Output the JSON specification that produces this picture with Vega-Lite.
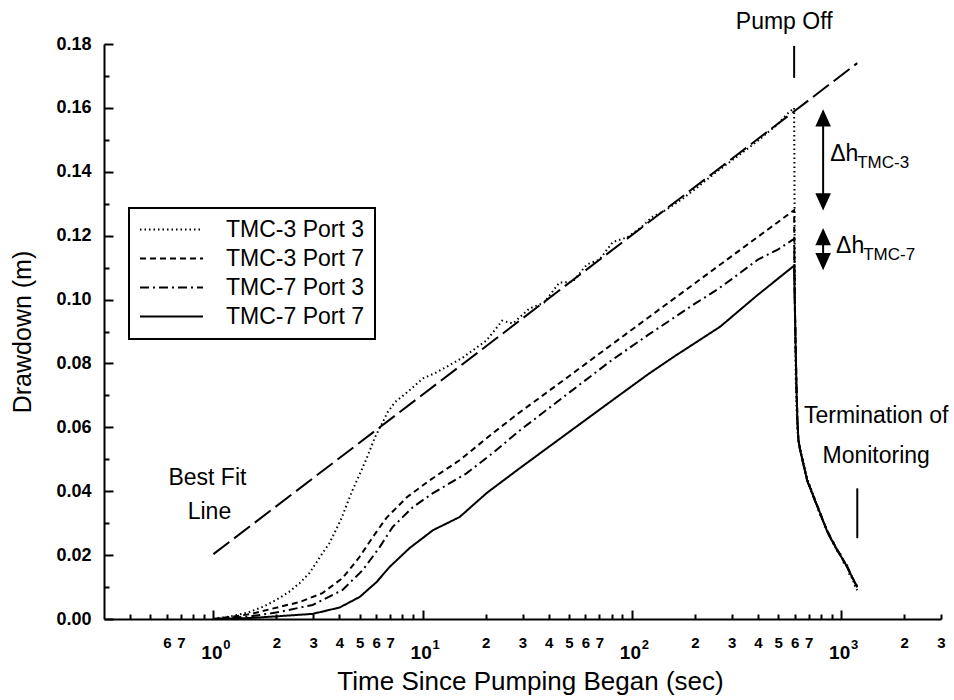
{
  "$schema": "https://vega.github.io/schema/vega-lite/v6.json",
  "width": 837,
  "height": 575,
  "autosize": {"type": "none"},
  "padding": {"left": 104, "top": 44, "right": 13, "bottom": 81},
  "background": "white",
  "config": {
    "font": "Liberation Sans",
    "view": {"stroke": null},
    "axis": {
      "grid": false,
      "domainColor": "black",
      "domainWidth": 2,
      "tickColor": "black",
      "tickWidth": 2,
      "labelColor": "black",
      "titleColor": "black",
      "labelFont": "Liberation Sans",
      "titleFont": "Liberation Sans",
      "titleFontWeight": "normal"
    },
    "legend": {"strokeWidth": 2}
  },
  "resolve": {"axis": {"x": "independent", "y": "independent"}},
  "datasets": {
    "curves": [
      {"series": "TMC-3 Port 3", "t": 1, "v": 0},
      {"series": "TMC-3 Port 3", "t": 1.25, "v": 0.001},
      {"series": "TMC-3 Port 3", "t": 1.49, "v": 0.0022},
      {"series": "TMC-3 Port 3", "t": 1.75, "v": 0.004},
      {"series": "TMC-3 Port 3", "t": 2.0, "v": 0.006},
      {"series": "TMC-3 Port 3", "t": 2.3, "v": 0.0085},
      {"series": "TMC-3 Port 3", "t": 2.58, "v": 0.0112},
      {"series": "TMC-3 Port 3", "t": 2.88, "v": 0.0144},
      {"series": "TMC-3 Port 3", "t": 3.32, "v": 0.0206},
      {"series": "TMC-3 Port 3", "t": 3.59, "v": 0.0238},
      {"series": "TMC-3 Port 3", "t": 4.1, "v": 0.0316},
      {"series": "TMC-3 Port 3", "t": 4.35, "v": 0.036},
      {"series": "TMC-3 Port 3", "t": 4.6, "v": 0.04},
      {"series": "TMC-3 Port 3", "t": 5.1, "v": 0.0466},
      {"series": "TMC-3 Port 3", "t": 5.4, "v": 0.0503},
      {"series": "TMC-3 Port 3", "t": 5.9, "v": 0.0567},
      {"series": "TMC-3 Port 3", "t": 6.8, "v": 0.0647},
      {"series": "TMC-3 Port 3", "t": 7.35, "v": 0.0678},
      {"series": "TMC-3 Port 3", "t": 8.4, "v": 0.0709},
      {"series": "TMC-3 Port 3", "t": 8.97, "v": 0.0725},
      {"series": "TMC-3 Port 3", "t": 10.0, "v": 0.0753},
      {"series": "TMC-3 Port 3", "t": 11.4, "v": 0.0769},
      {"series": "TMC-3 Port 3", "t": 13.4, "v": 0.0794},
      {"series": "TMC-3 Port 3", "t": 15.6, "v": 0.0819},
      {"series": "TMC-3 Port 3", "t": 18.7, "v": 0.0856},
      {"series": "TMC-3 Port 3", "t": 20.2, "v": 0.0872},
      {"series": "TMC-3 Port 3", "t": 24, "v": 0.0934},
      {"series": "TMC-3 Port 3", "t": 27, "v": 0.0925},
      {"series": "TMC-3 Port 3", "t": 32.4, "v": 0.0972},
      {"series": "TMC-3 Port 3", "t": 38, "v": 0.099},
      {"series": "TMC-3 Port 3", "t": 45, "v": 0.1053},
      {"series": "TMC-3 Port 3", "t": 52, "v": 0.1055},
      {"series": "TMC-3 Port 3", "t": 61, "v": 0.111},
      {"series": "TMC-3 Port 3", "t": 70, "v": 0.1125},
      {"series": "TMC-3 Port 3", "t": 81, "v": 0.118},
      {"series": "TMC-3 Port 3", "t": 95, "v": 0.1195},
      {"series": "TMC-3 Port 3", "t": 110, "v": 0.1225},
      {"series": "TMC-3 Port 3", "t": 126, "v": 0.126},
      {"series": "TMC-3 Port 3", "t": 145, "v": 0.128},
      {"series": "TMC-3 Port 3", "t": 170, "v": 0.131},
      {"series": "TMC-3 Port 3", "t": 200, "v": 0.1345},
      {"series": "TMC-3 Port 3", "t": 254, "v": 0.14},
      {"series": "TMC-3 Port 3", "t": 300, "v": 0.1435},
      {"series": "TMC-3 Port 3", "t": 350, "v": 0.1468},
      {"series": "TMC-3 Port 3", "t": 400, "v": 0.1497},
      {"series": "TMC-3 Port 3", "t": 450, "v": 0.1525},
      {"series": "TMC-3 Port 3", "t": 500, "v": 0.155},
      {"series": "TMC-3 Port 3", "t": 550, "v": 0.158},
      {"series": "TMC-3 Port 3", "t": 596, "v": 0.16},
      {"series": "TMC-3 Port 3", "t": 598, "v": 0.14},
      {"series": "TMC-3 Port 3", "t": 600, "v": 0.11},
      {"series": "TMC-3 Port 3", "t": 603, "v": 0.09},
      {"series": "TMC-3 Port 3", "t": 607, "v": 0.075},
      {"series": "TMC-3 Port 3", "t": 612, "v": 0.066},
      {"series": "TMC-3 Port 3", "t": 620, "v": 0.058},
      {"series": "TMC-3 Port 3", "t": 628, "v": 0.055},
      {"series": "TMC-3 Port 3", "t": 637, "v": 0.0535},
      {"series": "TMC-3 Port 3", "t": 660, "v": 0.049},
      {"series": "TMC-3 Port 3", "t": 688, "v": 0.044},
      {"series": "TMC-3 Port 3", "t": 715, "v": 0.041},
      {"series": "TMC-3 Port 3", "t": 740, "v": 0.0385},
      {"series": "TMC-3 Port 3", "t": 765, "v": 0.0355},
      {"series": "TMC-3 Port 3", "t": 794, "v": 0.0325},
      {"series": "TMC-3 Port 3", "t": 820, "v": 0.0305},
      {"series": "TMC-3 Port 3", "t": 850, "v": 0.0285},
      {"series": "TMC-3 Port 3", "t": 880, "v": 0.0255},
      {"series": "TMC-3 Port 3", "t": 916, "v": 0.0243},
      {"series": "TMC-3 Port 3", "t": 950, "v": 0.0215},
      {"series": "TMC-3 Port 3", "t": 990, "v": 0.0205},
      {"series": "TMC-3 Port 3", "t": 1030, "v": 0.0175},
      {"series": "TMC-3 Port 3", "t": 1069, "v": 0.0168},
      {"series": "TMC-3 Port 3", "t": 1100, "v": 0.0135},
      {"series": "TMC-3 Port 3", "t": 1130, "v": 0.0128},
      {"series": "TMC-3 Port 3", "t": 1160, "v": 0.0105},
      {"series": "TMC-3 Port 3", "t": 1194, "v": 0.009},

      {"series": "TMC-3 Port 7", "t": 1, "v": 0},
      {"series": "TMC-3 Port 7", "t": 1.5, "v": 0.0015},
      {"series": "TMC-3 Port 7", "t": 2.07, "v": 0.0038},
      {"series": "TMC-3 Port 7", "t": 2.58, "v": 0.0053},
      {"series": "TMC-3 Port 7", "t": 3.32, "v": 0.0081},
      {"series": "TMC-3 Port 7", "t": 4.14, "v": 0.0128},
      {"series": "TMC-3 Port 7", "t": 4.99, "v": 0.0194},
      {"series": "TMC-3 Port 7", "t": 5.77, "v": 0.0256},
      {"series": "TMC-3 Port 7", "t": 6.7, "v": 0.0316},
      {"series": "TMC-3 Port 7", "t": 8.4, "v": 0.0381},
      {"series": "TMC-3 Port 7", "t": 10.8, "v": 0.0434},
      {"series": "TMC-3 Port 7", "t": 15.0, "v": 0.0497},
      {"series": "TMC-3 Port 7", "t": 21.6, "v": 0.0581},
      {"series": "TMC-3 Port 7", "t": 29.1, "v": 0.0647},
      {"series": "TMC-3 Port 7", "t": 50, "v": 0.076},
      {"series": "TMC-3 Port 7", "t": 80, "v": 0.0859},
      {"series": "TMC-3 Port 7", "t": 120, "v": 0.0944},
      {"series": "TMC-3 Port 7", "t": 200, "v": 0.1051},
      {"series": "TMC-3 Port 7", "t": 300, "v": 0.1136},
      {"series": "TMC-3 Port 7", "t": 450, "v": 0.1221},
      {"series": "TMC-3 Port 7", "t": 596, "v": 0.128},
      {"series": "TMC-3 Port 7", "t": 600, "v": 0.1},
      {"series": "TMC-3 Port 7", "t": 606, "v": 0.085},
      {"series": "TMC-3 Port 7", "t": 612, "v": 0.072},
      {"series": "TMC-3 Port 7", "t": 618, "v": 0.062},
      {"series": "TMC-3 Port 7", "t": 625, "v": 0.056},
      {"series": "TMC-3 Port 7", "t": 637, "v": 0.053},
      {"series": "TMC-3 Port 7", "t": 688, "v": 0.0435},
      {"series": "TMC-3 Port 7", "t": 740, "v": 0.0382},
      {"series": "TMC-3 Port 7", "t": 794, "v": 0.0332},
      {"series": "TMC-3 Port 7", "t": 850, "v": 0.0282},
      {"series": "TMC-3 Port 7", "t": 916, "v": 0.024},
      {"series": "TMC-3 Port 7", "t": 990, "v": 0.0201},
      {"series": "TMC-3 Port 7", "t": 1069, "v": 0.0164},
      {"series": "TMC-3 Port 7", "t": 1130, "v": 0.0131},
      {"series": "TMC-3 Port 7", "t": 1194, "v": 0.0102},

      {"series": "TMC-7 Port 3", "t": 1, "v": 0},
      {"series": "TMC-7 Port 3", "t": 1.5, "v": 0.0008},
      {"series": "TMC-7 Port 3", "t": 2.07, "v": 0.0022},
      {"series": "TMC-7 Port 3", "t": 2.98, "v": 0.0044},
      {"series": "TMC-7 Port 3", "t": 4.14, "v": 0.0091},
      {"series": "TMC-7 Port 3", "t": 5.17, "v": 0.0153},
      {"series": "TMC-7 Port 3", "t": 6.23, "v": 0.0225},
      {"series": "TMC-7 Port 3", "t": 7.19, "v": 0.0288},
      {"series": "TMC-7 Port 3", "t": 8.97, "v": 0.035},
      {"series": "TMC-7 Port 3", "t": 11.2, "v": 0.0394},
      {"series": "TMC-7 Port 3", "t": 16.2, "v": 0.0456},
      {"series": "TMC-7 Port 3", "t": 21.6, "v": 0.0519},
      {"series": "TMC-7 Port 3", "t": 29.1, "v": 0.059},
      {"series": "TMC-7 Port 3", "t": 50, "v": 0.0708},
      {"series": "TMC-7 Port 3", "t": 80, "v": 0.081},
      {"series": "TMC-7 Port 3", "t": 120, "v": 0.089},
      {"series": "TMC-7 Port 3", "t": 200, "v": 0.0987},
      {"series": "TMC-7 Port 3", "t": 250, "v": 0.1027},
      {"series": "TMC-7 Port 3", "t": 300, "v": 0.1064},
      {"series": "TMC-7 Port 3", "t": 400, "v": 0.1125},
      {"series": "TMC-7 Port 3", "t": 500, "v": 0.1157},
      {"series": "TMC-7 Port 3", "t": 596, "v": 0.119},
      {"series": "TMC-7 Port 3", "t": 600, "v": 0.1},
      {"series": "TMC-7 Port 3", "t": 606, "v": 0.085},
      {"series": "TMC-7 Port 3", "t": 612, "v": 0.072},
      {"series": "TMC-7 Port 3", "t": 618, "v": 0.062},
      {"series": "TMC-7 Port 3", "t": 625, "v": 0.056},
      {"series": "TMC-7 Port 3", "t": 637, "v": 0.0527},
      {"series": "TMC-7 Port 3", "t": 688, "v": 0.0433},
      {"series": "TMC-7 Port 3", "t": 740, "v": 0.0379},
      {"series": "TMC-7 Port 3", "t": 794, "v": 0.033},
      {"series": "TMC-7 Port 3", "t": 850, "v": 0.0279},
      {"series": "TMC-7 Port 3", "t": 916, "v": 0.0237},
      {"series": "TMC-7 Port 3", "t": 990, "v": 0.0199},
      {"series": "TMC-7 Port 3", "t": 1069, "v": 0.0162},
      {"series": "TMC-7 Port 3", "t": 1130, "v": 0.0129},
      {"series": "TMC-7 Port 3", "t": 1194, "v": 0.0099},

      {"series": "TMC-7 Port 7", "t": 1, "v": 0},
      {"series": "TMC-7 Port 7", "t": 1.5, "v": 0.0003},
      {"series": "TMC-7 Port 7", "t": 2.07, "v": 0.0009},
      {"series": "TMC-7 Port 7", "t": 2.98, "v": 0.0016},
      {"series": "TMC-7 Port 7", "t": 4.01, "v": 0.0036},
      {"series": "TMC-7 Port 7", "t": 5.0, "v": 0.0069},
      {"series": "TMC-7 Port 7", "t": 6.03, "v": 0.0116},
      {"series": "TMC-7 Port 7", "t": 6.95, "v": 0.0163},
      {"series": "TMC-7 Port 7", "t": 8.66, "v": 0.0222},
      {"series": "TMC-7 Port 7", "t": 11.2, "v": 0.0278},
      {"series": "TMC-7 Port 7", "t": 15.0, "v": 0.0319},
      {"series": "TMC-7 Port 7", "t": 20.2, "v": 0.0394},
      {"series": "TMC-7 Port 7", "t": 29.1, "v": 0.0472},
      {"series": "TMC-7 Port 7", "t": 50, "v": 0.0585},
      {"series": "TMC-7 Port 7", "t": 80, "v": 0.0683},
      {"series": "TMC-7 Port 7", "t": 120, "v": 0.0767},
      {"series": "TMC-7 Port 7", "t": 157, "v": 0.0819},
      {"series": "TMC-7 Port 7", "t": 264, "v": 0.0915},
      {"series": "TMC-7 Port 7", "t": 400, "v": 0.1015},
      {"series": "TMC-7 Port 7", "t": 596, "v": 0.1106},
      {"series": "TMC-7 Port 7", "t": 600, "v": 0.1},
      {"series": "TMC-7 Port 7", "t": 606, "v": 0.085},
      {"series": "TMC-7 Port 7", "t": 612, "v": 0.072},
      {"series": "TMC-7 Port 7", "t": 618, "v": 0.062},
      {"series": "TMC-7 Port 7", "t": 625, "v": 0.056},
      {"series": "TMC-7 Port 7", "t": 637, "v": 0.0528},
      {"series": "TMC-7 Port 7", "t": 688, "v": 0.0434},
      {"series": "TMC-7 Port 7", "t": 740, "v": 0.038},
      {"series": "TMC-7 Port 7", "t": 794, "v": 0.0331},
      {"series": "TMC-7 Port 7", "t": 850, "v": 0.028},
      {"series": "TMC-7 Port 7", "t": 916, "v": 0.0238},
      {"series": "TMC-7 Port 7", "t": 990, "v": 0.02},
      {"series": "TMC-7 Port 7", "t": 1069, "v": 0.0163},
      {"series": "TMC-7 Port 7", "t": 1130, "v": 0.013},
      {"series": "TMC-7 Port 7", "t": 1194, "v": 0.01}
    ],
    "bestfit": [
      {"t": 1, "v": 0.0203},
      {"t": 1194, "v": 0.174}
    ],
    "rules": [
      {"t": 596, "v": 0.1694, "v2": 0.1794},
      {"t": 1194, "v": 0.0253, "v2": 0.0409},
      {"t": 820, "v": 0.1306, "v2": 0.1569},
      {"t": 820, "v": 0.1119, "v2": 0.1197}
    ],
    "headsUp": [
      {"t": 820, "v": 0.1569},
      {"t": 820, "v": 0.1197}
    ],
    "headsDown": [
      {"t": 820, "v": 0.1306},
      {"t": 820, "v": 0.1119}
    ],
    "notes": [
      {"t": 534, "v": 0.1847, "label": "Pump Off"},
      {"t": 0.936, "v": 0.0419, "label": "Best Fit"},
      {"t": 0.957, "v": 0.03125, "label": "Line"},
      {"t": 1470, "v": 0.06125, "label": "Termination of"},
      {"t": 1470, "v": 0.04875, "label": "Monitoring"}
    ],
    "deltas": [
      {"t": 886, "v": 0.1434, "label": "Δh"},
      {"t": 946, "v": 0.1147, "label": "Δh"}
    ],
    "subs": [
      {"t": 1193, "v": 0.1413, "label": "TMC-3"},
      {"t": 1274, "v": 0.1125, "label": "TMC-7"}
    ]
  },
  "layer": [
    {
      "data": {"name": "curves"},
      "mark": {"type": "line", "color": "black", "strokeWidth": 2},
      "encoding": {
        "x": {
          "field": "t",
          "type": "quantitative",
          "scale": {"type": "log", "domain": [0.3, 3000], "nice": false},
          "axis": {
            "orient": "bottom",
            "title": null,
            "domain": false,
            "offset": -5,
            "values": [0.4, 0.5, 0.6, 0.7, 0.8, 0.9, 2, 3, 4, 5, 6, 7, 8, 9, 20, 30, 40, 50, 60, 70, 80, 90, 200, 300, 400, 500, 600, 700, 800, 900, 2000, 3000],
            "labelExpr": "datum.value < 0.55 ? '' : (round(datum.value / pow(10, floor(log(datum.value) / LN10 + 1e-9))) <= 7 ? '' + round(datum.value / pow(10, floor(log(datum.value) / LN10 + 1e-9))) : '')",
            "labelOverlap": false,
            "labelFlush": false,
            "labelFontWeight": "bold",
            "labelFontSize": 15,
            "labelPadding": 16,
            "tickSize": 5
          }
        },
        "y": {
          "field": "v",
          "type": "quantitative",
          "scale": {"domain": [0, 0.18], "nice": false, "zero": false},
          "axis": {
            "orient": "left",
            "title": null,
            "domain": false,
            "offset": -5,
            "values": [0.01, 0.03, 0.05, 0.07, 0.09, 0.11, 0.13, 0.15, 0.17],
            "labels": false,
            "tickSize": 5
          }
        },
        "strokeDash": {
          "field": "series",
          "type": "nominal",
          "scale": {
            "domain": ["TMC-3 Port 3", "TMC-3 Port 7", "TMC-7 Port 3", "TMC-7 Port 7"],
            "range": [[1.5, 3], [6, 4], [9, 4, 2, 4], [1, 0]]
          },
          "legend": {
            "title": null,
            "orient": "none",
            "legendX": 25,
            "legendY": 164,
            "labelFontSize": 23,
            "labelFont": "Liberation Sans",
            "labelColor": "black",
            "labelLimit": 400,
            "symbolType": "stroke",
            "symbolSize": 3969,
            "symbolStrokeWidth": 2,
            "symbolStrokeColor": "black",
            "clipHeight": 23,
            "labelOffset": 22,
            "rowPadding": 5,
            "padding": 10,
            "strokeColor": "black"
          }
        }
      }
    },
    {
      "data": {"name": "bestfit"},
      "mark": {"type": "line", "color": "black", "strokeWidth": 2, "strokeDash": [20, 6]},
      "encoding": {
        "x": {
          "field": "t",
          "type": "quantitative",
          "scale": {"type": "log", "domain": [0.3, 3000], "nice": false},
          "axis": {
            "orient": "bottom",
            "title": null,
            "domain": false,
            "offset": -9,
            "values": [1, 10, 100, 1000],
            "labelExpr": "'10'",
            "labelOverlap": false,
            "labelFlush": false,
            "labelFontWeight": "bold",
            "labelFontSize": 19,
            "labelPadding": 24,
            "labelOffset": -2,
            "tickSize": 9
          }
        },
        "y": {
          "field": "v",
          "type": "quantitative",
          "scale": {"domain": [0, 0.18], "nice": false, "zero": false},
          "axis": {
            "orient": "left",
            "title": null,
            "domain": false,
            "offset": -9,
            "values": [0, 0.02, 0.04, 0.06, 0.08, 0.1, 0.12, 0.14, 0.16, 0.18],
            "labelExpr": "format(datum.value, '.2f')",
            "labelOverlap": false,
            "labelFlush": false,
            "labelFontWeight": "bold",
            "labelFontSize": 18,
            "labelPadding": 13,
            "tickSize": 9
          }
        }
      }
    },
    {
      "data": {"name": "rules"},
      "mark": {"type": "rule", "color": "black", "strokeWidth": 2},
      "encoding": {
        "x": {
          "field": "t",
          "type": "quantitative",
          "axis": {
            "orient": "bottom",
            "title": "Time Since Pumping Began (sec)",
            "titleFontSize": 26,
            "titleX": 426,
            "titleY": 70,
            "titleBaseline": "alphabetic",
            "ticks": false,
            "labels": false,
            "domain": true
          }
        },
        "y": {
          "field": "v",
          "type": "quantitative",
          "axis": {
            "orient": "left",
            "title": "Drawdown (m)",
            "titleFontSize": 25,
            "titleX": -82,
            "titleY": 287.5,
            "titleAngle": -90,
            "titleAlign": "center",
            "titleBaseline": "middle",
            "ticks": false,
            "labels": false,
            "domain": true
          }
        },
        "y2": {"field": "v2"}
      }
    },
    {
      "data": {"name": "headsUp"},
      "mark": {"type": "point", "shape": "M0,-1L-0.9,1L0.9,1Z", "filled": true, "color": "black", "opacity": 1, "size": 300, "strokeWidth": 0},
      "encoding": {
        "x": {
          "field": "t",
          "type": "quantitative",
          "axis": {
            "orient": "bottom",
            "title": null,
            "domain": false,
            "ticks": false,
            "values": [1, 10, 100, 1000],
            "labelExpr": "datum.value == 1 ? '0' : datum.value == 10 ? '1' : datum.value == 100 ? '2' : '3'",
            "labelOverlap": false,
            "labelFlush": false,
            "labelFontWeight": "bold",
            "labelFontSize": 13,
            "labelPadding": 19,
            "labelOffset": 13
          }
        },
        "y": {"field": "v", "type": "quantitative", "axis": null}
      }
    },
    {
      "data": {"name": "headsDown"},
      "mark": {"type": "point", "shape": "M0,1L-0.9,-1L0.9,-1Z", "filled": true, "color": "black", "opacity": 1, "size": 300, "strokeWidth": 0},
      "encoding": {
        "x": {"field": "t", "type": "quantitative", "axis": null},
        "y": {"field": "v", "type": "quantitative", "axis": null}
      }
    },
    {
      "data": {"name": "notes"},
      "mark": {"type": "text", "fontSize": 23, "align": "center", "baseline": "alphabetic", "color": "black"},
      "encoding": {
        "x": {"field": "t", "type": "quantitative", "axis": null},
        "y": {"field": "v", "type": "quantitative", "axis": null},
        "text": {"field": "label"}
      }
    },
    {
      "data": {"name": "deltas"},
      "mark": {"type": "text", "fontSize": 23, "align": "left", "baseline": "alphabetic", "color": "black"},
      "encoding": {
        "x": {"field": "t", "type": "quantitative", "axis": null},
        "y": {"field": "v", "type": "quantitative", "axis": null},
        "text": {"field": "label"}
      }
    },
    {
      "data": {"name": "subs"},
      "mark": {"type": "text", "fontSize": 17, "align": "left", "baseline": "alphabetic", "color": "black"},
      "encoding": {
        "x": {"field": "t", "type": "quantitative", "axis": null},
        "y": {"field": "v", "type": "quantitative", "axis": null},
        "text": {"field": "label"}
      }
    }
  ]
}
